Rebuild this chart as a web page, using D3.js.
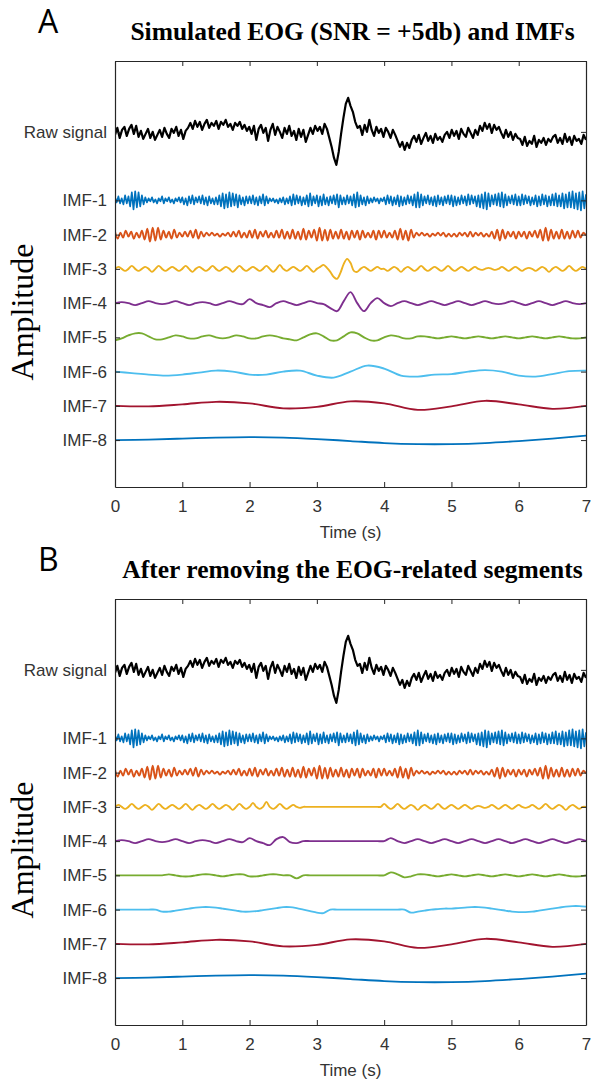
<!DOCTYPE html>
<html>
<head>
<meta charset="utf-8">
<script src="https://cdn.jsdelivr.net/npm/d3@7"></script>
<style>
  body { margin: 0; background: #fff; }
  svg text { font-family: "Liberation Sans", Arial, sans-serif; }
</style>
</head>
<body>
<div id="chart"></div>
<script>
// ---- data ----
const TIME_MAX = 7;
const xTicks = [0, 1, 2, 3, 4, 5, 6, 7];
const traceLabels = ["Raw signal", "IMF-1", "IMF-2", "IMF-3", "IMF-4", "IMF-5", "IMF-6", "IMF-7", "IMF-8"];
const traceSlots = [0, 2, 3, 4, 5, 6, 7, 8, 9];
const traceColors = ["#000000", "#0072BD", "#D95319", "#EDB120", "#7E2F8E", "#77AC30", "#4DBEEE", "#A2142F", "#0072BD"];
const panelLetters = ["A", "B"];
const panelTitles = ["Simulated EOG (SNR = +5db) and IMFs", "After removing the EOG-related segments"];

// raw signal, 0-7 s
const rawSignal = [
  -3, 4, -6, 2, 5, -4, 3, 7, -2, 6, -5, 1, -7, -2, 3, -6, 0, -8, -3, 2, -5, 4, -2, -6, 3, -1, 5, -4, 2, -7, 1, 4,
  9, 3, 11, 5, 10, 2, 8, 12, 4, 9, 6, 11, 3, 10, 7, 12, 5, 8, 2, 9, 6, 10, 3, 7, 1, 5,
  -2, 6, -8, 3, 7, -1, 4, -9, 2, 8, -3, 5, 0, -6, 4, -2, 6, -4, 1, -8, 3, -5, 2, -10, -3, 4, -2, 6, 1,
  5, -2, 8, 3,
  -6, -15, -26, -33,
  -20, -2, 14, 28, 34,
  26, 20, 10, 4,
  6, -3, 7, 0, 12, 2, -4, 5, -1, 3, -5, 4, 0, -6, 2, -3,
  -9, -15, -10, -18, -11, -16, -8,
  -4, -10, -3, -12, -6, -1, -9, -4, -11, -2, -8, -5, -10, -3,
  0, -6, 2, -4, 1, -7, 3, -2, -5, 4, -1, -6, 2, -3,
  6, 1, 9, 3, 8, -1, 7, 2, 5,
  -1, -6, 2, -5, 0, -8, -2, -6,
  -7, -13, -5, -14, -9, -12, -4, -15, -8, -11, -6, -13, -7, -10, -5,
  -3, -11, -6, -12, -2, -10, -5, -13, -4, -9, -7, -12, -3, -8
];

const imf1 = [
  3, -2, 4, -3, 2, -4, 5, -3, 4, -6, 8, -9, 9, -7, 8, -6, 5, -4, 3, -2,
  2, -1, 3, -2, 1, -3, 2, -1, 4, -3, 2, -1, 3, -2, 1, -3, 2, -1, 3, -2,
  3, -4, 2, -5, 4, -3, 5, -4, 3, -2, 4, -3, 5, -4, 3, -5, 4, -3, 2, -4,
  3, -4, 5, -6, 7, -8, 6, -7, 8, -6, 7, -5, 6, -7, 5, -4, 3, -5, 4, -3,
  4, -3, 5, -4, 3, -5, 4, -3, 6, -5, 4, -3, 2, -1, 2, -2, 1, -3, 2, -2,
  3, -4, 2, -3, 4, -5, 6, -4, 5, -3, 4, -5, 3, -4, 5, -6, 7, -5, 4, -3,
  5, -6, 4, -5, 6, -4, 3, -5, 4, -3, 5, -4, 6, -7, 5, -4, 3, -4, 5, -3,
  4, -5, 6, -7, 8, -6, 5, -4, 3, -5, 4, -3, 2, -2, 3, -1, 2, -3, 2, -1,
  3, -4, 5, -3, 4, -5, 3, -4, 5, -6, 4, -5, 3, -4, 5, -3, 4, -5, 6, -7,
  8, -7, 6, -5, 4, -3, 5, -4, 3, -5, 4, -6, 5, -4, 3, -5, 4, -3, 5, -4,
  5, -6, 4, -5, 3, -4, 5, -3, 4, -5, 6, -4, 5, -3, 4, -6, 5, -7, 6, -8,
  8, -9, 7, -6, 5, -4, 6, -5, 7, -6, 8, -7, 6, -5, 4, -3, 5, -4, 6, -5,
  4, -5, 6, -4, 5, -3, 4, -5, 3, -4, 5, -6, 4, -5, 6, -4, 5, -6, 4, -5,
  6, -5, 7, -6, 5, -6, 7, -8, 6, -7, 8, -7, 9, -8, 7, -9, 8, -10, 9, -8,
  6
];

const imf2 = [
  3, -4, 2, -3, 4, -2, 3, -4, 2, -3, 4, -5, 6, -7, 7, -6, 7, -5, 4, -3, 3, -4, 5, -3, 2,
  -2, 3, -2, 4, -3, 5, -4, 3, -2, 2, -1, 2, -1, 1, -2, 1, -1, 2, -2, 3, -2, 4, -3, 2, -3,
  4, -3, 5, -4, 3, -2, 4, -3, 2, -3, 4, -3, 5, -4, 3, -4, 5, -4, 3, -5, 6, -5, 4, -3, 5,
  -6, 7, -6, 5, -6, 5, -4, 3, -4, 5, -4, 3, -5, 4, -3, 4, -5, 4, -3, 2, -3, 4, -5, 4, -3,
  4, -3, 2, -3, 4, -5, 6, -5, 4, -6, 5, -3, 2, -1, 2, -1, 1, -2, 1, -1, 2, -1, 2, -2, 1,
  -2, 1, -2, 2, -1, 2, -2, 3, -2, 2, -1, 2, -2, 1, -2, 3, -4, 5, -6, 5, -4, 3, -2, 3, -4,
  3, -2, 3, -4, 3, -2, 4, -3, 5, -6, 7, -6, 5, -4, 3, -4, 5, -4, 3, -4, 4, -3, 4, -3, 2,
  -1
];

const imf3A = [
  0, 2, 0, -2, 0, 3, 0, -2, 0, 2, 0, -3, 0, 3, 0, -2, 0, 2, 0, -2,
  0, 3, 0, -3, 0, 2, 0, -2, 0, 3, 0, -2, 0, 2, 0, -3, 0, 3, 0, -2,
  0, 2, 0, -2, 0, 3, 0, -3, 0, 4, 0, -2, 0, 2, 0, -2, 0, 3, 0, -3,
  0, 2, 4, 1, -3, -8, -10, -4, 5, 10, 6, -2, -3, 0, 2, 0, -2, 0, 2, 0,
  0, -2, 0, 2, 0, -3, 0, 2, 0, -2, 0, 3, 0, -2, 0, 2, 0, -2, 0, 3,
  0, -2, 0, 2, 0, -2, 0, 2, 0, -1, 0, 1, 0, -1, 0, 2, 0, -2, 0, 2,
  0, -2, 0, 1, 0, -2, 0, 2, 0, -3, 0, 2, 0, -2, 0, 3, 0, -2, 0, 2,
  0
];

const imf3B = [
  0, 2, 0, -2, 0, 3, 0, -2, 0, 2, 0, -3, 0, 3, 0, -2, 0, 2, 0, -2,
  0, 3, 0, -3, 0, 2, 0, -2, 0, 3, 0, -2, 0, 2, 0, -3, 0, 3, 0, -2,
  0, 4, 0, -2, 0, 5, 0, -2, 0, 3, 0, -2, 0, 2, 0, -1, 0, 0, 0, 0,
  0, 0, 0, 0, 0, 0, 0, 0, 0, 0, 0, 0, 0, 0, 0, 0, 0, 0, 0, 0,
  3, 0, -2, 0, 3, 0, -2, 0, 2, 0, -3, 0, 2, 0, -2, 0, 3, 0, -2, 0,
  2, 0, -2, 0, 2, 0, -2, 0, 1, 0, -1, 0, 2, 0, -2, 0, 2, 0, -2, 0,
  2, 0, -1, 0, 2, 0, -2, 0, 3, 0, -2, 0, 2, 0, -3, 0, 2, 0, -2, 0,
  0
];

const imf4A = [
  0, 1, 0, -2, 0, 2, 0, -1, 0, 2,
  0, -2, 0, 1, 0, -2, 0, 2, 0, -1,
  4, 0, -2, -4, 0, 2, 0, -2, 0, 2,
  0, -1, -5, -8, 2, 11, 0, -8, 0, 5,
  0, -3, 0, 2, 0, -2, 0, 2, 0, -2,
  0, 2, 0, -2, 0, 2, 0, -1, 0, 2,
  0, -2, 0, 2, 0, -2, 0, 2, 0, -1,
  0
];

const imf4B = [
  0, 1, 0, -2, 0, 2, 0, -1, 0, 2,
  0, -2, 0, 1, 0, -2, 0, 2, 0, -1,
  3, 0, -2, -4, 2, 4, -1, -2, 0, 0,
  0, 0, 0, 0, 0, 0, 0, 0, 0, 0,
  0, 3, 0, -2, 0, 2, 0, -2, 0, 2,
  0, -2, 0, 2, 0, -2, 0, 2, 0, -2,
  0, 2, 0, -2, 0, 2, 0, -2, 0, 2,
  0
];

const imf5A = [
  -3, -1, 2, 4, 4, 1, -2, -2, 0, 2,
  1, -1, -1, 1, 2, 0, -1, 0, 2, 1,
  -1, -1, 1, 2, 1, -1, -2, -3, 0, 3,
  4, 1, -3, -3, 1, 5, 4, 0, -3, -3,
  0, 2, 1, -1, -1, 1, 1, 0, -1, 0,
  1, 0, -1, 0, 1, 0, -1, 0, 1, 0,
  -1, 0, 1, 0, -1, 0, 1, 0, -1, -1,
  0
];

const imf5B = [
  0, 0, 0, 0, 0, 0, 0, 0, 1, 0,
  -1, -1, 0, 1, 1, 0, -1, 0, 1, 1,
  -1, -1, 0, 1, 1, 0, 0, -3, 0, 0,
  0, 0, 0, 0, 0, 0, 0, 0, 0, 0,
  0, 3, 1, -2, -1, 1, 1, 0, -1, 0,
  1, 0, -1, 0, 1, 0, -1, 0, 1, 0,
  -1, 0, 1, 0, -1, 0, 1, 0, -1, -1,
  0
];

const imf6A = [
  0, -1.5, -3, -4, -3, -1, 1, 0, -3, -3, 0, 1, -4, -6, 0,
  6, 3, -4, -5, -3, -2.5, 0, 1.5, 0, -4, -5, -2.5, 0.5, 1
];

const imf6B = [
  0, 0, 0, 0, 0, 0, 0, -2, -2, -1,
  0, 1, 2, 2.5, 2.5, 2, 1, 0, -1, -2,
  -2, -1.5, -0.5, 0.5, 1.5, 2.5, 2.5, 1.5, 0, -1.5,
  -3, -3.5, 0, 0, 0, 0, 0, 0, 0, 0,
  0, 0, 0, 0, -3, -2, -1, 0, 0.5, 1,
  1, 1.5, 2, 2.5, 2.5, 2, 1, 0, -1, -2,
  -2.5, -2.5, -2, -1, 0, 1, 2, 3, 3.5, 3.5,
  3
];

const imf7 = [0, -0.5, 1.5, 4, 2.5, -2.5, -1, 4.5, 2.5, -4, -0.5, 5, 1.5, -3, 0];
const imf8 = [0, 0.5, 1.5, 2.5, 3, 2.5, 1, -1, -3, -4, -4, -3, -1, 1.5, 4.5];

const panelSeries = [
  [rawSignal, imf1, imf2, imf3A, imf4A, imf5A, imf6A, imf7, imf8],
  [rawSignal, imf1, imf2, imf3B, imf4B, imf5B, imf6B, imf7, imf8]
];

// ---- layout ----
const W = 599, H = 1081;
const panelShift = 538;
const plotLeft = 115, plotRight = 586, plotTop = 61, plotBottom = 487;
const slotGap = 34.2;   // amplitude units between stacked traces

const svg = d3.select("#chart").append("svg")
  .attr("width", W)
  .attr("height", H);

const x = d3.scaleLinear().domain([0, TIME_MAX]).range([plotLeft, plotRight]);

function curveFor(i) {
  // raw signal and IMF-1 are noise-like: straight segments
  if (i === 0 || i === 1) return d3.curveLinear;
  return d3.curveCatmullRom.alpha(0.5);
}

panelSeries.forEach((series, p) => {
  const g = svg.append("g").attr("transform", `translate(0, ${p * panelShift})`);

  // y in amplitude units: raw trace centred on 0, others stacked below
  const y = d3.scaleLinear()
    .domain([2.07 * slotGap, -10.37 * slotGap])
    .range([plotTop, plotBottom]);

  const clipId = "clip" + p;
  g.append("clipPath").attr("id", clipId)
    .append("rect")
    .attr("x", plotLeft).attr("y", plotTop)
    .attr("width", plotRight - plotLeft).attr("height", plotBottom - plotTop);

  // panel letter and title
  g.append("text")
    .attr("x", 38).attr("y", 33)
    .style("font-family", "'Open Sans', 'Liberation Sans', sans-serif")
    .style("font-size", "32px")
    .attr("fill", "#000")
    .text(panelLetters[p]);

  g.append("text")
    .attr("x", (plotLeft + plotRight) / 2 + 2).attr("y", 40)
    .attr("text-anchor", "middle")
    .style("font-family", "'Liberation Serif', 'Times New Roman', serif")
    .style("font-weight", "bold")
    .style("font-size", "25.5px")
    .attr("fill", "#000")
    .text(panelTitles[p]);

  // traces
  const lines = g.append("g").attr("clip-path", `url(#${clipId})`);
  series.forEach((vals, i) => {
    const offset = -traceSlots[i] * slotGap;
    const dt = TIME_MAX / (vals.length - 1);
    const line = d3.line()
      .x((d, k) => x(k * dt))
      .y(d => y(d + offset))
      .curve(curveFor(i));
    lines.append("path")
      .datum(vals)
      .attr("fill", "none")
      .attr("stroke", traceColors[i])
      .attr("stroke-width", i === 0 ? 2.2 : (i === 1 ? 1.7 : 1.9))
      .attr("stroke-linejoin", "round")
      .attr("d", line);
  });

  // axes (MATLAB style: box, ticks pointing inward)
  const tickVals = traceSlots.map(s => -s * slotGap);

  const xAxisBottom = d3.axisBottom(x).tickValues(xTicks).tickFormat(d3.format("d"))
    .tickSizeInner(-5).tickSizeOuter(0).tickPadding(13);
  const xAxisTop = d3.axisTop(x).tickValues(xTicks).tickFormat("")
    .tickSizeInner(-5).tickSizeOuter(0);
  const yAxisLeft = d3.axisLeft(y).tickValues(tickVals)
    .tickFormat((d, i) => traceLabels[i])
    .tickSizeInner(-5).tickSizeOuter(0).tickPadding(8);
  const yAxisRight = d3.axisRight(y).tickValues(tickVals).tickFormat("")
    .tickSizeInner(-5).tickSizeOuter(0);

  const axes = [
    g.append("g").attr("transform", `translate(0, ${plotBottom})`).call(xAxisBottom),
    g.append("g").attr("transform", `translate(0, ${plotTop})`).call(xAxisTop),
    g.append("g").attr("transform", `translate(${plotLeft}, 0)`).call(yAxisLeft),
    g.append("g").attr("transform", `translate(${plotRight}, 0)`).call(yAxisRight)
  ];
  axes.forEach(a => {
    a.select(".domain").attr("stroke", "#262626").attr("stroke-width", 1.2);
    a.selectAll(".tick line").attr("stroke", "#262626");
    a.selectAll("text")
      .style("font-family", "'Liberation Sans', Arial, sans-serif")
      .style("font-size", "17px")
      .attr("fill", "#333");
  });

  // axis titles
  g.append("text")
    .attr("x", (plotLeft + plotRight) / 2).attr("y", 538)
    .attr("text-anchor", "middle")
    .style("font-size", "17px")
    .attr("fill", "#333")
    .text("Time (s)");

  g.append("text")
    .attr("transform", "translate(33, 312) rotate(-90)")
    .attr("text-anchor", "middle")
    .style("font-family", "'Liberation Serif', 'Times New Roman', serif")
    .style("font-size", "32px")
    .attr("fill", "#000")
    .text("Amplitude");
});
</script>
</body>
</html>
